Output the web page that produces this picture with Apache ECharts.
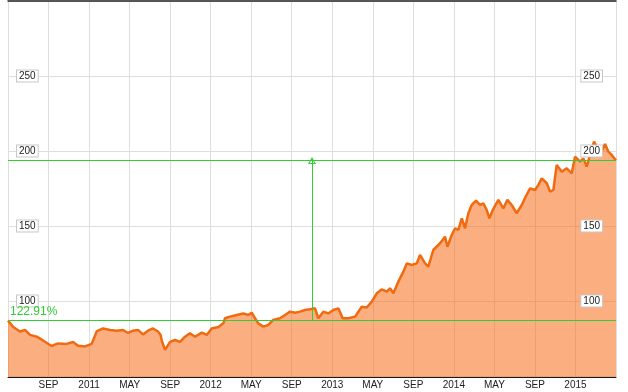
<!DOCTYPE html>
<html><head><meta charset="utf-8">
<script src="https://cdn.jsdelivr.net/npm/echarts@6/dist/echarts.min.js"></script>
<style>html,body{margin:0;padding:0;background:#fff}#c{width:628px;height:392px}</style>
</head><body><div id="c"></div>
<script>
// x: months since Jan 2010 (4 = May 2010, 64 = May 2015)
const monthIdx = [
  4.00,4.52,5.18,5.68,6.17,6.83,7.45,8.31,8.93,9.79,10.42,10.91,11.60,12.26,12.75,13.38,14.07,14.73,15.35,15.84,
  16.34,16.83,17.32,17.82,18.31,18.80,19.05,19.20,19.50,19.99,20.48,20.98,21.47,21.96,22.46,23.12,23.61,24.10,24.76,25.25,
  25.42,25.91,26.57,27.22,27.72,28.05,28.38,28.70,29.20,29.69,30.18,30.84,31.34,31.83,32.33,32.82,33.31,33.80,34.30,34.62,
  35.12,35.61,36.10,36.60,36.77,37.03,37.59,38.25,38.91,39.40,39.90,40.39,40.88,41.38,41.70,42.03,42.52,43.02,43.35,43.84,
  44.34,44.66,45.16,45.48,45.97,46.64,47.13,47.36,47.79,48.12,48.44,48.78,49.10,49.43,49.76,50.19,50.58,50.91,51.24,51.50,
  51.84,52.39,52.88,53.28,53.71,54.20,54.70,55.12,55.52,56.01,56.34,56.67,57.17,57.49,57.82,58.15,58.65,59.14,59.63,59.96,
  60.45,60.78,61.11,61.44,61.83,62.26,62.52,62.92,63.24,63.58,64.00
];
const values = [
  86.9,82.7,79.7,80.7,77.4,76.2,73.7,70.0,71.7,71.4,72.7,70.2,69.7,71.4,79.7,81.7,80.7,80.2,80.7,78.7,
  80.2,80.7,77.7,80.2,81.7,79.7,77.5,73.0,67.4,72.7,74.0,72.7,76.2,78.5,76.2,78.9,77.4,81.7,82.7,85.1,
  88.5,89.6,90.7,91.7,90.7,92.2,88.5,85.1,82.9,84.0,87.4,88.5,90.7,92.9,92.2,92.9,94.0,94.5,95.1,88.5,
  92.9,91.7,94.0,95.1,96.2,88.5,88.5,89.6,96.2,95.7,99.6,105.1,107.7,106.2,108.5,105.1,112.9,119.6,125.1,124.0,
  125.1,130.7,125.1,122.9,134.0,138.5,142.9,136.2,144.0,148.5,147.4,155.1,148.5,158.5,164.0,166.9,164.0,165.1,160.7,155.1,
  160.7,167.4,161.7,167.4,164.0,158.5,164.0,170.0,175.1,174.0,177.4,181.8,178.5,172.9,174.0,190.7,186.2,188.5,185.1,196.2,
  192.9,195.1,189.6,197.4,206.2,200.7,199.0,204.7,199.6,197.4,193.7
];
// tick labels for ticks at months 4, 8, ..., 64
const xTickLabels = ['', 'SEP','2011','MAY','SEP','2012','MAY','SEP','2013','MAY','SEP','2014','MAY','SEP','2015',''];
const yTickLabels = [100, 150, 200, 250];
const changeLabel = '122.91%';
const midMonth = 34;

const FONT = "'Liberation Sans', Arial, sans-serif";
const GREEN = '#33cc33';
const hollowTri = 'path://M5,0L10,8L0,8Z M5,3L2,7L8,7Z';

const yLabel = (side) => ({
  inside: true,
  margin: side === 'left' ? 9 : 14,
  formatter: v => yTickLabels.indexOf(Math.round(v)) >= 0 && Math.abs(v - Math.round(v)) < 1e-6 ? '{b|' + Math.round(v) + '}' : '',
  rich: { b: { backgroundColor: '#fff', borderColor: '#c8c8c8', borderWidth: 1, padding: [1, 2, 0, 2],
    fontSize: 10, lineHeight: 11, color: '#222', fontFamily: FONT } }
});

const chart = echarts.init(document.getElementById('c'), null, { renderer: 'canvas' });
chart.setOption({
  animation: false,
  backgroundColor: '#fff',
  textStyle: { fontFamily: FONT },
  grid: { left: 8, right: 12, top: 1, bottom: 15 },
  xAxis: [{
    type: 'value', min: 4, max: 64, interval: 4,
    axisLine: { show: true, lineStyle: { color: '#1a1a1a', width: 1 } },
    axisTick: { show: false },
    axisLabel: { interval: 0, margin: 3, fontSize: 10, color: '#222', fontFamily: FONT,
      showMinLabel: false, showMaxLabel: false,
      formatter: v => xTickLabels[Math.round((v - 4) / 4)] || '' },
    splitLine: { show: true, lineStyle: { color: '#dedede', width: 1 } }
  }, {
    type: 'value', position: 'top', min: 4, max: 64, interval: 4,
    axisLine: { show: true, lineStyle: { color: '#222', width: 1.5 } },
    axisTick: { show: false }, axisLabel: { show: false }, splitLine: { show: false }
  }],
  yAxis: [{
    type: 'value', position: 'left', min: 49.33, max: 300, splitNumber: 5,
    axisLine: { show: false }, axisTick: { show: false },
    axisLabel: yLabel('left'),
    splitLine: { show: true, lineStyle: { color: '#dedede', width: 1 } }
  }, {
    type: 'value', position: 'right', min: 49.33, max: 300, splitNumber: 5, z: 5,
    axisLine: { show: false }, axisTick: { show: false },
    axisLabel: yLabel('right'),
    splitLine: { show: false }
  }],
  series: [{
    type: 'line',
    xAxisIndex: 0, yAxisIndex: 0,
    data: monthIdx.map((m, i) => [m, values[i]]),
    symbol: 'none', showSymbol: false,
    lineStyle: { color: '#f26a10', width: 2.5 },
    areaStyle: { color: 'rgba(247,112,28,0.56)', opacity: 1, origin: 'start' },
    markLine: {
      silent: true, animation: false, symbol: 'none',
      lineStyle: { color: GREEN, width: 1, type: 'solid' },
      label: { show: false },
      emphasis: { disabled: true },
      data: [
        { yAxis: values[0], label: { show: true, position: 'insideStartTop', formatter: changeLabel,
            color: GREEN, fontSize: 12, distance: [2, 3], fontFamily: FONT } },
        { yAxis: values[values.length - 1] },
        [ { coord: [midMonth, values[0]], symbol: 'none' },
          { coord: [midMonth, values[values.length - 1]], symbol: hollowTri, symbolSize: [8, 7] } ]
      ]
    }
  }]
});
</script>
</body></html>
